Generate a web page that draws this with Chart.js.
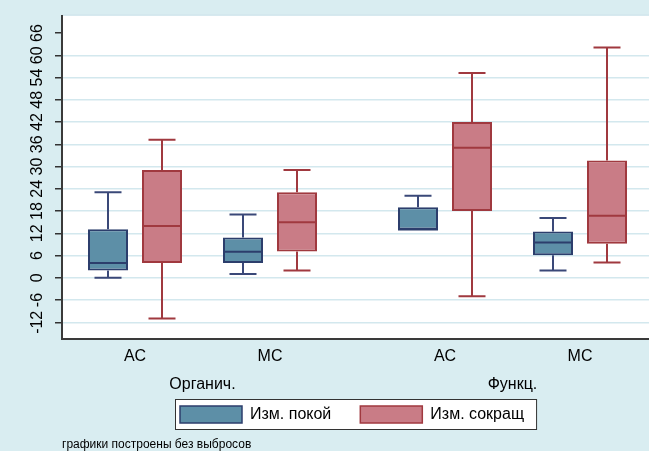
<!DOCTYPE html>
<html>
<head>
<meta charset="utf-8">
<script src="https://cdn.jsdelivr.net/npm/chart.js@4.4.1/dist/chart.umd.min.js"></script>
<style>
  html, body { margin: 0; padding: 0; background: #d9edf1; }
</style>
</head>
<body>
<canvas id="myChart" width="649" height="451"></canvas>
<script>
// data
const categories = ['АС', 'МС', 'АС', 'МС'];
const groups = ['Органич.', 'Функц.'];
const seriesNames = ['Изм. покой', 'Изм. сокращ'];
const yTicks = [-12, -6, 0, 6, 12, 18, 24, 30, 36, 42, 48, 54, 60, 66];
const footnote = 'графики построены без выбросов';

// Изм. покой
const restMin = [0, 1, 13, 2];
const restQ1 = [2, 4, 13, 6.1];
const restMed = [4, 7, 13, 9.5];
const restQ3 = [13.1, 10.9, 19, 12.5];
const restMax = [23.1, 17.1, 22.1, 16.1];

// Изм. сокращ
const contrMin = [-11, 2, -5, 4.1];
const contrQ1 = [4, 7.1, 18, 9.2];
const contrMed = [14, 15, 35.1, 16.7];
const contrQ3 = [29.1, 23.1, 42, 31.6];
const contrMax = [37.2, 29.1, 55.2, 62.1];

// layout of the x axis (axis units)
const xSpan = 587;
const firstPos = 73, catStep = 135, groupStep = 310;
const catPos = categories.map((c, i) => firstPos + Math.floor(i / 2) * groupStep + (i % 2) * catStep);
const groupPos = groups.map((g, i) => (catPos[i * 2] + catPos[i * 2 + 1]) / 2);

const FONT = "'Liberation Sans', Arial, Helvetica, sans-serif";
Chart.defaults.font.family = FONT;
Chart.defaults.color = '#000';

function makeSet(label, q1, q3, lo, med, hi, fill, border, whisker) {
    return {
        label: label,
        data: catPos.map((x, i) => ({ x: x, y: [q1[i], q3[i]] })),
        lows: lo, meds: med, highs: hi,
        backgroundColor: fill,
        borderColor: border,
        whiskerColor: whisker,
        borderWidth: 2,
        borderSkipped: false,
        categoryPercentage: 0.8,
        barPercentage: 40 / 54
    };
}

const background = {
    id: 'background',
    beforeDraw(chart) {
        const { ctx, chartArea: a } = chart;
        ctx.save();
        ctx.fillStyle = '#d9edf1';
        ctx.fillRect(0, 0, chart.width, chart.height);
        ctx.fillStyle = '#ffffff';
        ctx.fillRect(a.left, a.top, a.right - a.left, a.bottom - a.top);
        ctx.strokeStyle = '#d2e6ec';
        ctx.lineWidth = 1.5;
        ctx.beginPath();
        ctx.moveTo(a.left, a.top - 0.5);
        ctx.lineTo(a.right, a.top - 0.5);
        ctx.stroke();
        ctx.restore();
    }
};

const whiskers = {
    id: 'whiskers',
    afterDatasetsDraw(chart) {
        const ctx = chart.ctx;
        const y = chart.scales.y;
        chart.data.datasets.forEach((ds, di) => {
            const meta = chart.getDatasetMeta(di);
            meta.data.forEach((bar, i) => {
                const q1 = ds.data[i].y[0], q3 = ds.data[i].y[1];
                const cap = 13.5;
                ctx.save();
                ctx.lineWidth = 2;
                ctx.strokeStyle = ds.whiskerColor;
                ctx.beginPath();
                if (ds.highs[i] > q3) {
                    ctx.moveTo(bar.x, y.getPixelForValue(q3));
                    ctx.lineTo(bar.x, y.getPixelForValue(ds.highs[i]));
                    ctx.moveTo(bar.x - cap, y.getPixelForValue(ds.highs[i]));
                    ctx.lineTo(bar.x + cap, y.getPixelForValue(ds.highs[i]));
                }
                if (ds.lows[i] < q1) {
                    ctx.moveTo(bar.x, y.getPixelForValue(q1));
                    ctx.lineTo(bar.x, y.getPixelForValue(ds.lows[i]));
                    ctx.moveTo(bar.x - cap, y.getPixelForValue(ds.lows[i]));
                    ctx.lineTo(bar.x + cap, y.getPixelForValue(ds.lows[i]));
                }
                ctx.stroke();
                // median
                ctx.strokeStyle = ds.borderColor;
                ctx.beginPath();
                ctx.moveTo(bar.x - bar.width / 2, y.getPixelForValue(ds.meds[i]));
                ctx.lineTo(bar.x + bar.width / 2, y.getPixelForValue(ds.meds[i]));
                ctx.stroke();
                ctx.restore();
            });
        });
    }
};

// framed legend under the group labels
const legendBox = {
    id: 'legendBox',
    afterDraw(chart) {
        const ctx = chart.ctx;
        const a = chart.chartArea;
        const sw = 62, sh = 17, gapText = 8, gapItem = 29, padL = 5, padR = 12, h = 30;
        ctx.save();
        ctx.font = '16px ' + FONT;
        const widths = chart.data.datasets.map(ds => sw + gapText + ctx.measureText(ds.label).width);
        const total = padL + widths[0] + gapItem + widths[1] + padR;
        const left = Math.round((a.left + a.right) / 2 - total / 2);
        const top = Math.round(chart.scales.x2.top + 36);
        ctx.fillStyle = '#fff';
        ctx.fillRect(left, top, total, h);
        ctx.strokeStyle = '#333';
        ctx.lineWidth = 1;
        ctx.strokeRect(left + 0.5, top + 0.5, total, h);
        let x = left + padL;
        chart.data.datasets.forEach((ds, i) => {
            ctx.fillStyle = ds.backgroundColor;
            ctx.fillRect(x, top + 7, sw, sh);
            ctx.strokeStyle = ds.borderColor;
            ctx.lineWidth = 1.5;
            ctx.strokeRect(x, top + 7, sw, sh);
            ctx.fillStyle = '#000';
            ctx.textBaseline = 'middle';
            ctx.textAlign = 'left';
            ctx.fillText(ds.label, x + sw + gapText, top + h / 2 + 1);
            x += widths[i] + gapItem;
        });
        ctx.restore();
    }
};

const ctx = document.getElementById('myChart');
const myChart = new Chart(ctx, {
    type: 'bar',
    data: {
        datasets: [
            makeSet(seriesNames[0], restQ1, restQ3, restMin, restMed, restMax, '#5d8fa7', '#2c3e6c', '#3a4878'),
            makeSet(seriesNames[1], contrQ1, contrQ3, contrMin, contrMed, contrMax, '#c97c86', '#a0393f', '#a0393f')
        ]
    },
    options: {
        responsive: false,
        animation: false,
        devicePixelRatio: 1,
        layout: { padding: { top: 12, left: 0, right: 0, bottom: 0 } },
        scales: {
            x: {
                type: 'linear',
                position: 'bottom',
                offset: false,
                min: 0,
                max: xSpan,
                afterBuildTicks: axis => { axis.ticks = catPos.map(v => ({ value: v })); },
                afterFit: axis => { axis.height = 24; },
                grid: { display: false, offset: false },
                border: { display: true, color: '#3a3a3a', width: 2 },
                ticks: {
                    autoSkip: false, maxRotation: 0, padding: 0,
                    font: { size: 16 }, color: '#000',
                    callback: (v, i) => categories[i]
                }
            },
            x2: {
                type: 'linear',
                position: 'bottom',
                offset: false,
                min: 0,
                max: xSpan,
                afterBuildTicks: axis => { axis.ticks = groupPos.map(v => ({ value: v })); },
                afterFit: axis => { axis.height = 68; },
                grid: { display: false, offset: false },
                border: { display: false },
                ticks: {
                    autoSkip: false, maxRotation: 0, padding: 4,
                    font: { size: 16 }, color: '#000',
                    callback: (v, i) => groups[i]
                }
            },
            y: {
                min: -16.5,
                max: 70.7,
                afterBuildTicks: axis => { axis.ticks = yTicks.map(v => ({ value: v })); },
                afterFit: axis => { axis.width = 62; },
                grid: {
                    color: c => (c.tick && c.tick.value === 66) ? 'rgba(0,0,0,0)' : '#d3e8ee',
                    lineWidth: 1.5,
                    drawTicks: true,
                    tickLength: 7,
                    tickColor: '#333',
                    tickWidth: 1.5
                },
                border: { display: true, color: '#3a3a3a', width: 2 },
                ticks: {
                    autoSkip: false,
                    minRotation: 90,
                    maxRotation: 90,
                    crossAlign: 'center',
                    padding: 6,
                    font: { size: 16 },
                    color: '#000'
                }
            }
        },
        plugins: {
            legend: { display: false },
            tooltip: { enabled: false },
            subtitle: {
                display: true,
                text: footnote,
                position: 'bottom',
                align: 'start',
                fullSize: false,
                color: '#000',
                font: { size: 12, lineHeight: 1 },
                padding: { top: 8, bottom: 0 }
            }
        }
    },
    plugins: [background, whiskers, legendBox]
});
</script>
</body>
</html>
